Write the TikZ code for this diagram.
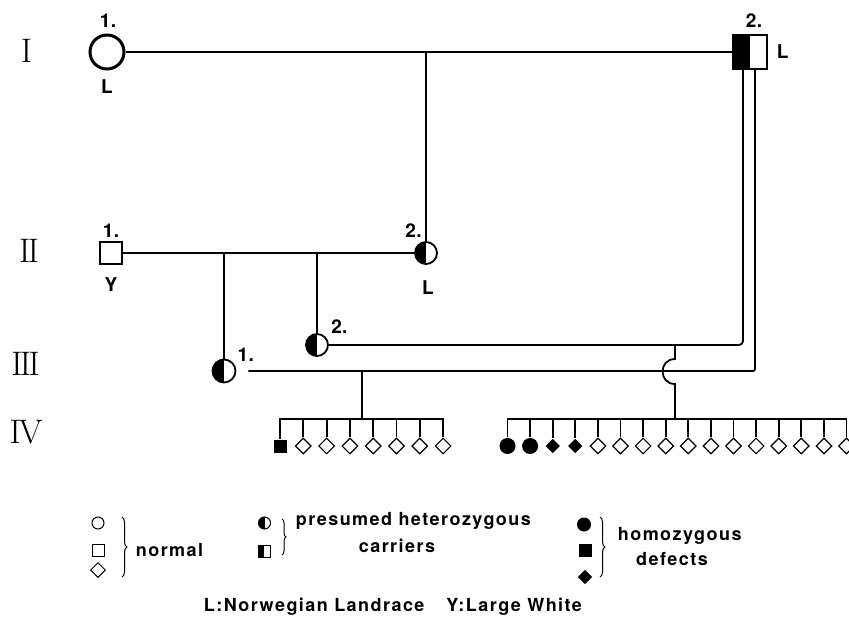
\documentclass[tikz,border=0pt]{standalone}
\usepackage{fontspec}
\newfontfamily\lblfont[LetterSpace=2]{TeX Gyre Heros}
\newfontfamily\lgdfont[LetterSpace=8]{TeX Gyre Heros}
\usetikzlibrary{positioning,shapes.geometric,decorations.pathreplacing}

\begin{document}
\begin{tikzpicture}[
  x=1pt,y=-1pt,line width=1.8pt,
  female/.style={circle,draw,inner sep=0pt,minimum size=22pt,line width=1.8pt},
  male/.style={rectangle,draw,inner sep=0pt,minimum size=22pt,line width=1.3pt},
  dm/.style={diamond,draw,fill=white,inner sep=0pt,minimum size=16pt,line width=1.2pt},
  carrier/.style={path picture={\fill[black] (path picture bounding box.south west) rectangle (path picture bounding box.north);}},
  ciraff/.style={circle,fill=black,inner sep=0pt,minimum size=16pt},
  sqaff/.style={rectangle,fill=black,inner sep=0pt,minimum size=13pt},
  dmaff/.style={diamond,fill=black,inner sep=0pt,minimum size=15pt},
  gen/.style={font=\fontsize{34}{34}\selectfont,inner sep=0pt},
  num/.style={font=\lblfont\bfseries\fontsize{19}{19}\selectfont,inner sep=0pt},
  lgd/.style={font=\lgdfont\bfseries\fontsize{18}{18}\selectfont,inner sep=0pt},
  brace/.style={decorate,decoration={brace,amplitude=5pt},line width=1pt}
]
\useasboundingbox (0,0) rectangle (849,620);

% generations
\node[gen] (gI) at (26.5,51) {I};
\node[gen] (gII) at (29,251) {I\kern-2.5ptI};
\node[gen] (gIII) at (25.5,364) {I\kern-2.5ptI\kern-2.5ptI};
\node[gen] (gIV) at (26,432) {I\kern-2ptV};

% individuals
\node[female,minimum size=34pt,line width=3pt] (I1) at (107,52) {};
\node[male,carrier,minimum size=34pt,line width=1.8pt] (I2) at (750,52) {};
\node[male] (II1) at (111,253) {};
\node[female,carrier] (II2) at (426,253) {};
\node[female,carrier] (III2) at (317,345) {};
\node[female,carrier,minimum size=23pt] (III1) at (224,371) {};

\node[num,above=5pt of I1,xshift=1pt] {1.};
\node[num,below=8pt of I1] {L};
\node[num,above=6pt of I2,xshift=4pt] {2.};
\node[num,right=8pt of I2] {L};
\node[num,above=2.5pt of II1] {1.};
\node[num,below=12pt of II1] {Y};
\node[num,above left=6pt and -5pt of II2] {2.};
\node[num,below=15pt of II2,xshift=2pt] {L};
\node[num,above right=2pt and 5pt of III2] {2.};
\node[num,above right=0pt and 4pt of III1] {1.};

% matings and descents
\coordinate (m1) at (426,52);
\coordinate (m3) at (675,345);
\coordinate (m4) at (362,371);
\coordinate (sibA) at (362,419);
\coordinate (sibB) at (675,419);
\draw (I1.east) -- (I2.west);
\draw (m1) -- (II2.north);
\draw (II1.east) -- (II2.west);
\draw (III1.north |- II1.east) -- (III1.north);
\draw (III2.north |- II1.east) -- (III2.north);
\draw[rounded corners=4pt] (III2.east) -| ([xshift=-7pt]I2.south);
\draw[rounded corners=2pt,shorten <=12pt] (III1.east) -| ([xshift=5pt]I2.south);
\draw (m3) -- ++(0,14) to[out=180,in=180,looseness=1.7] ++(0,25) -- (sibB);
\draw (m4) -- (sibA);

% offspring
\foreach \s [count=\i] in {sqaff,dm,dm,dm,dm,dm,dm,dm} {
  \node[\s] (IVa\i) at ({280+23.3*(\i-1)},446) {};
  \draw (IVa\i.north) -- (IVa\i.north |- sibA);
}
\draw[line cap=rect] (IVa1.north |- sibA) -- (IVa8.north |- sibA);
\foreach \s [count=\i] in {ciraff,ciraff,dmaff,dmaff,dm,dm,dm,dm,dm,dm,dm,dm,dm,dm,dm,dm} {
  \node[\s] (IVb\i) at ({507.5+22.6*(\i-1)},446) {};
  \draw (IVb\i.north) -- (IVb\i.north |- sibB);
}
\draw[line cap=rect] (IVb1.north |- sibB) -- (IVb16.north |- sibB);

% legend
\node[female,minimum size=12pt,line width=1pt] (Lg1) at (98,523) {};
\node[male,minimum size=12pt,line width=1pt] (Lg2) at (98,550) {};
\node[dm,minimum size=15pt,line width=1pt] (Lg3) at (98,570) {};
\draw[brace] (122,517) -- (122,577);
\node[lgd,anchor=base west] (tnorm) at (135,556) {normal};

\node[female,carrier,minimum size=12pt,line width=1pt] (Lh1) at (264.5,523) {};
\node[male,carrier,minimum size=12pt,line width=1pt] (Lh2) at (264,551) {};
\draw[brace,decoration={amplitude=4pt}] (282,519) -- (282,555);
\node[lgd,anchor=base west] (thet) at (295,525) {presumed heterozygous};
\node[lgd,anchor=base] (tcar) at (397,552) {carriers};

\node[ciraff,minimum size=14pt] (Lf1) at (584,524.5) {};
\node[sqaff] (Lf2) at (585,550) {};
\node[dmaff] (Lf3) at (585,577) {};
\draw[brace] (600,517) -- (600,577);
\node[lgd,anchor=base west] (thom) at (617,540) {homozygous};
\node[lgd,anchor=base] (tdef) at (672,565) {defects};

\node[lgd,anchor=base west] (tbreed) at (203,611) {L:Norwegian Landrace\hspace{22pt}Y:Large White};
\end{tikzpicture}
\end{document}
